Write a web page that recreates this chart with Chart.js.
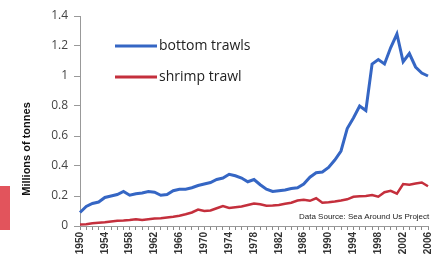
<!DOCTYPE html>
<html>
<head>
<meta charset="utf-8">
<script src="https://cdn.jsdelivr.net/npm/chart.js@4"></script>
<style>
  html,body{margin:0;padding:0;background:#fff;}
  #wrap{position:relative;width:445px;height:261px;overflow:hidden;}
  #tab{position:absolute;left:0;top:186px;width:10px;height:44px;background:#e2545c;}
</style>
</head>
<body>
<div id="wrap">
  <canvas id="c" width="445" height="261"></canvas>
  <div id="tab"></div>
</div>
<script>
// years 1950..2006
const years = [];
for (let y = 1950; y <= 2006; y++) years.push(String(y));

const bottomTrawls = [
  0.09, 0.13, 0.15, 0.16, 0.19, 0.20, 0.21, 0.23, 0.205, 0.215,
  0.22, 0.23, 0.225, 0.205, 0.21, 0.235, 0.245, 0.245, 0.255, 0.27,
  0.28, 0.29, 0.31, 0.32, 0.345, 0.335, 0.32, 0.295, 0.31, 0.275,
  0.245, 0.23, 0.235, 0.24, 0.25, 0.255, 0.28, 0.325, 0.355, 0.36,
  0.39, 0.44, 0.50, 0.65, 0.72, 0.80, 0.77, 1.08, 1.11, 1.08,
  1.19, 1.28, 1.095, 1.15, 1.06, 1.02, 1.00
];
const shrimpTrawl = [
  0.01, 0.012, 0.018, 0.022, 0.025, 0.03, 0.035, 0.037, 0.04, 0.045,
  0.04, 0.045, 0.05, 0.052, 0.057, 0.062, 0.068, 0.078, 0.09, 0.11,
  0.10, 0.103, 0.118, 0.133, 0.12, 0.125, 0.13, 0.14, 0.15, 0.145,
  0.135, 0.137, 0.14, 0.148, 0.155, 0.17, 0.175, 0.168, 0.185, 0.155,
  0.158, 0.163, 0.17, 0.178, 0.195, 0.198, 0.20, 0.207, 0.195, 0.225,
  0.235, 0.215, 0.28, 0.275, 0.283, 0.29, 0.265
];
const seriesNames = ['bottom trawls', 'shrimp trawl'];
const yTicks = [0, 0.2, 0.4, 0.6, 0.8, 1, 1.2, 1.4];

// legend + axis title + source note drawn on the canvas
const extras = {
  id: 'extras',
  afterDraw(chart){
    const ctx = chart.ctx;
    ctx.save();
    // legend
    const rows = [46, 77];
    chart.data.datasets.forEach((ds, i) => {
      ctx.strokeStyle = ds.borderColor;
      ctx.lineWidth = 3;
      ctx.beginPath(); ctx.moveTo(115, rows[i]); ctx.lineTo(157, rows[i]); ctx.stroke();
      ctx.fillStyle = '#222';
      ctx.font = '14px "Open Sans", sans-serif';
      ctx.textBaseline = 'middle';
      ctx.fillText(ds.label, 159, rows[i]);
    });
    // y title
    ctx.translate(27, 149);
    ctx.rotate(-Math.PI/2);
    ctx.font = 'bold 11px "Liberation Sans Narrow", "Liberation Sans", sans-serif';
    ctx.fillStyle = '#111';
    ctx.textAlign = 'center';
    ctx.textBaseline = 'middle';
    ctx.fillText('Millions of tonnes', 0, 0);
    ctx.restore();
    // source
    ctx.save();
    ctx.font = '8px "Liberation Sans", sans-serif';
    ctx.fillStyle = '#222';
    ctx.textBaseline = 'middle';
    ctx.fillText('Data Source: Sea Around Us Project', 299, 217);
    ctx.restore();
  }
};

new Chart(document.getElementById('c'), {
  type: 'line',
  data: {
    labels: years,
    datasets: [
      { label: seriesNames[0], data: bottomTrawls, borderColor: '#3566c4', borderWidth: 3, pointRadius: 0, tension: 0 },
      { label: seriesNames[1], data: shrimpTrawl, borderColor: '#c42f3c', borderWidth: 2.5, pointRadius: 0, tension: 0 }
    ]
  },
  options: {
    responsive: false,
    animation: false,
    layout: { padding: { top: 16, right: 17, left: 0, bottom: 0 } },
    plugins: { legend: { display: false }, tooltip: { enabled: false } },
    scales: {
      x: {
        offset: false,
        grid: { display: true, drawOnChartArea: false, drawTicks: true, tickLength: 4, color: '#888' },
        border: { color: '#999' },
        ticks: {
          autoSkip: false, minRotation: 90, maxRotation: 90, padding: 2,
          color: '#333', font: { size: 10, weight: 'bold', family: '"Liberation Sans Narrow", "Liberation Sans", sans-serif' },
          callback: function(v, i){ const y = +years[i]; return (y - 1950) % 4 === 0 ? years[i] : ''; }
        },
        afterFit: s => { s.height = 35; }
      },
      y: {
        min: 0, max: 1.4,
        afterBuildTicks: s => { s.ticks = yTicks.map(v => ({ value: v })); },
        grid: { drawOnChartArea: false, tickLength: 6, color: '#999' },
        border: { color: '#999' },
        ticks: {
          padding: 6, color: '#444',
          font: { size: 12, family: '"Open Sans", sans-serif' },
          callback: v => String(v)
        },
        afterFit: s => { s.width = 80; }
      }
    }
  },
  plugins: [extras]
});
</script>
</body>
</html>
